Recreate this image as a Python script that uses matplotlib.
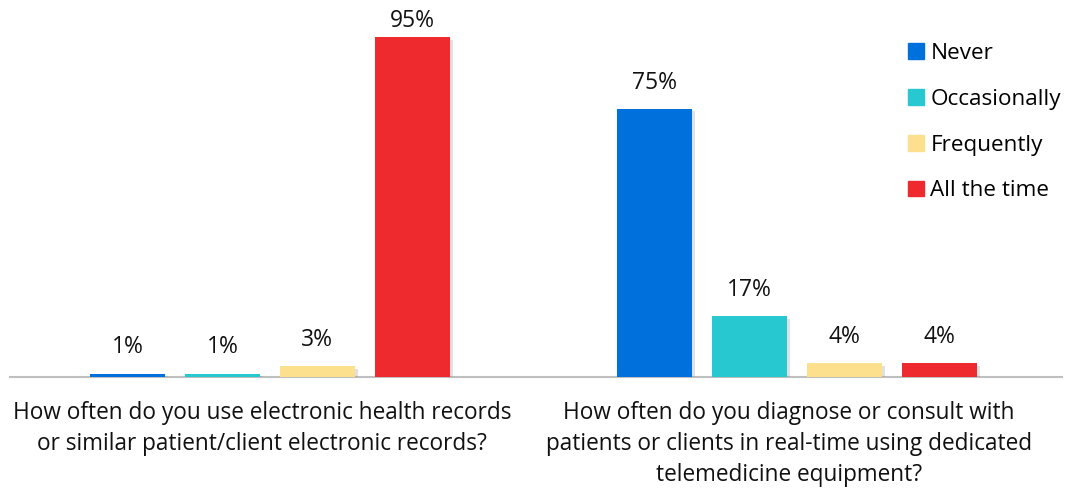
import matplotlib.pyplot as plt
import matplotlib.patheffects as pe
from matplotlib.patches import Patch

questions = [
    "How often do you use electronic health records\nor similar patient/client electronic records?",
    "How often do you diagnose or consult with\npatients or clients in real-time using dedicated\ntelemedicine equipment?",
]
series = ["Never", "Occasionally", "Frequently", "All the time"]
never = [1, 75]
occasionally = [1, 17]
frequently = [3, 4]
all_the_time = [95, 4]
colors = ["#0070DD", "#28C8D0", "#FDE08D", "#EE2A2F"]

plt.rcParams['font.family'] = ['Open Sans', 'DejaVu Sans']

fig = plt.figure(figsize=(10.66, 4.91), dpi=100)
ax = fig.add_axes([10 / 1066, 0.232, 1052 / 1066, 0.729])

values = [never, occasionally, frequently, all_the_time]
width = 0.142
step = 0.180
shadow = [pe.SimplePatchShadow(offset=(2.5, -2), shadow_rgbFace='#888888', alpha=0.25), pe.Normal()]
for i, (name, vals) in enumerate(zip(series, values)):
    xs = [g + (i - 1.5) * step for g in range(len(questions))]
    bars = ax.bar(xs, vals, width, color=colors[i], zorder=3)
    for b in bars:
        b.set_path_effects(shadow)
    for x, v in zip(xs, vals):
        # label sits above the bar, but kept inside the figure for the tall one
        ax.text(x, min(v + 5.6, 97.8), f"{v}%", ha='center', va='baseline',
                fontsize=16.5, color='#111111')

ax.set_xlim(-0.493, 1.503)
ax.set_ylim(0, 100)
ax.set_yticks([])
ax.set_xticks([])
for s in ['top', 'right', 'left']:
    ax.spines[s].set_visible(False)
ax.spines['bottom'].set_color('#BFBFBF')
ax.spines['bottom'].set_linewidth(1.5)

for g, q in enumerate(questions):
    ax.text(g - 0.015, -6.8, q, ha='center', va='top', fontsize=16.3, color='#111111',
            linespacing=1.39)

handles = [Patch(color=c, label=n) for c, n in zip(colors, series)]
ax.legend(handles=handles, loc='upper left', bbox_to_anchor=(0.845, 0.958), frameon=False,
          fontsize=16.2, handlelength=0.7, handleheight=0.7, handletextpad=0.3,
          labelspacing=1.1, borderaxespad=0)

fig.savefig("out.png", dpi=100)
